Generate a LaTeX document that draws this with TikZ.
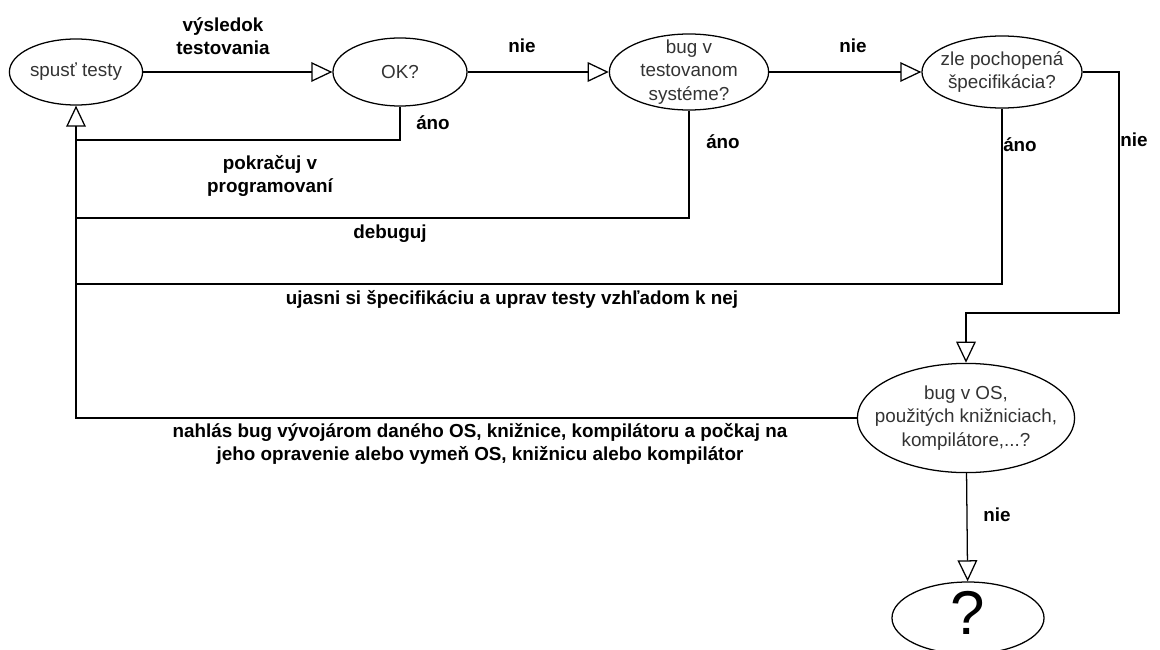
\documentclass[tikz,border=0pt]{standalone}
\usepackage{fontspec}
\setmainfont{Liberation Sans}
\usetikzlibrary{shapes.geometric,arrows.meta}

\begin{document}
\begin{tikzpicture}[x=0.025cm,y=-0.025cm,line width=0.9pt,
  krok/.style={ellipse,draw,inner sep=0pt},
  popis/.style={text=black!80,align=center,font=\fontsize{13.4}{16.5}\selectfont},
  lbl/.style={align=center,font=\fontsize{13.4}{16}\selectfont\bfseries},
  sip/.style={-{Triangle[open,length=15pt,width=14pt]}}]
  \useasboundingbox (0,0) rectangle (1160,650);

  % kroky
  \node[krok,minimum width=3.33cm,minimum height=1.65cm,
    label={[popis]center:spusť testy}] (spust) at (76,72) {};
  \node[krok,minimum width=3.35cm,minimum height=1.7cm,
    label={[popis]center:OK?}] (ok) at (400,72) {};
  \node[krok,minimum width=3.98cm,minimum height=1.9cm,
    label={[popis]center:{bug v\\testovanom\\systéme?}}] (bug) at (689,72) {};
  \node[krok,minimum width=4cm,minimum height=1.8cm,
    label={[popis]center:{zle pochopená\\špecifikácia?}}] (spec) at (1002,72) {};
  \node[krok,minimum width=5.43cm,minimum height=2.73cm,
    label={[popis]center:{bug v OS,\\použitých knižniciach,\\kompilátore,...?}}] (os) at (966,418) {};
  \node[krok,minimum width=3.8cm,minimum height=1.8cm] (otaznik) at (968,618) {};
  \node[inner sep=0pt,font=\fontsize{44}{44}\selectfont] (znak) at (968,613) {?};

  % pomocne body
  \coordinate (j1) at (0,140);
  \coordinate (j2) at (0,218);
  \coordinate (j3) at (0,284);
  \coordinate (r) at (1119,313);

  % hrany
  \draw[sip] (spust) -- (ok);
  \draw[sip] (ok) -- (bug);
  \draw[sip] (bug) -- (spec);
  \draw[sip] (spec.east) -| (r) -| (os.north);
  \draw[sip] (os) -- (otaznik);
  \draw[sip] (os.west) -| (spust.south);
  \draw (ok.south) |- (spust.south |- j1);
  \draw (bug.south) |- (spust.south |- j2);
  \draw (spec.south) |- (spust.south |- j3);

  % popisy hran
  \node[lbl] (vysl) at (223,36) {výsledok\\testovania};
  \node[lbl] (nie1) at (522,46) {nie};
  \node[lbl] (nie2) at (853,46) {nie};
  \node[lbl] (ano1) at (433,123) {áno};
  \node[lbl] (pokr) at (270,176) {pokračuj v\\programovaní};
  \node[lbl] (ano2) at (723,142) {áno};
  \node[lbl] (debug) at (390,234) {debuguj};
  \node[lbl] (ano3) at (1020,145) {áno};
  \node[lbl] (nie3) at (1134,140) {nie};
  \node[lbl] (ujasni) at (512,299) {ujasni si špecifikáciu a uprav testy vzhľadom k nej};
  \node[lbl] (nahlas) at (480,444) {nahlás bug vývojárom daného OS, knižnice, kompilátoru a počkaj na\\jeho opravenie alebo vymeň OS, knižnicu alebo kompilátor};
  \node[lbl] (nie4) at (997,515) {nie};
\end{tikzpicture}
\end{document}
